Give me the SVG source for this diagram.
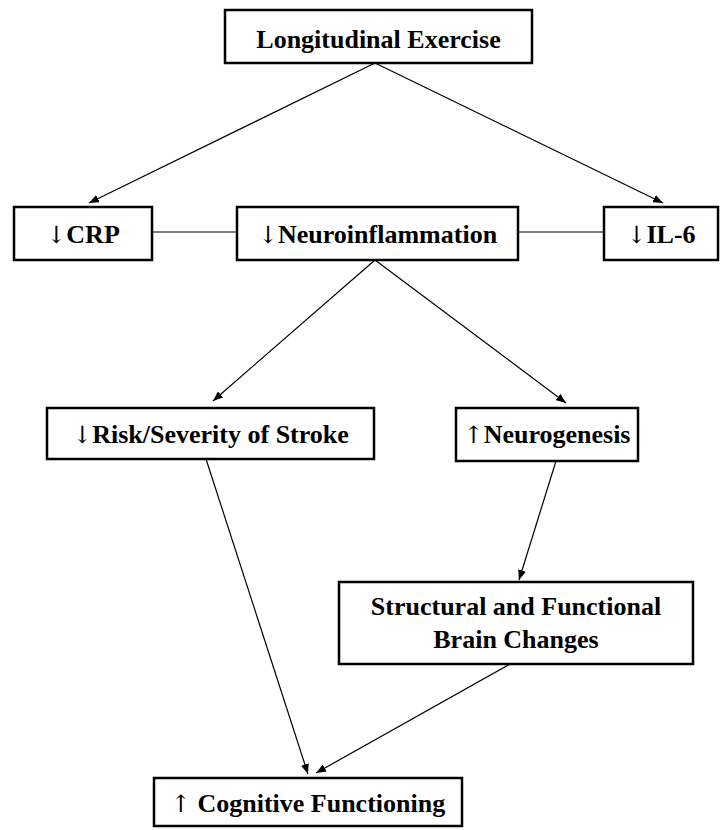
<svg xmlns="http://www.w3.org/2000/svg" width="726" height="830" viewBox="0 0 726 830">
<style>
.box{fill:#fff;stroke:#000;stroke-width:2.5}
.t{font-family:"Liberation Serif","Times New Roman",serif;font-weight:bold;font-size:26px;text-anchor:middle;fill:#000}
.a{font-family:"DejaVu Serif","Liberation Serif",serif;font-weight:normal;font-size:24px;fill:#000}
.c{stroke:#000;stroke-width:1.2;fill:none}
</style>
<defs>
<marker id="ah" viewBox="0 0 10 8" refX="10" refY="4" markerWidth="10" markerHeight="8" markerUnits="userSpaceOnUse" orient="auto">
<path d="M0,0 L10,4 L0,8 Z" fill="#000"/>
</marker>
</defs>
<g id="connectors">
<line class="c" x1="375" y1="63" x2="89" y2="203" marker-end="url(#ah)"/>
<line class="c" x1="375" y1="63" x2="663" y2="203" marker-end="url(#ah)"/>
<line class="c" x1="152" y1="232" x2="237" y2="232"/>
<line class="c" x1="518" y1="232" x2="604" y2="232"/>
<line class="c" x1="375" y1="260" x2="213" y2="401" marker-end="url(#ah)"/>
<line class="c" x1="375" y1="260" x2="566" y2="403" marker-end="url(#ah)"/>
<line class="c" x1="556" y1="461" x2="519" y2="580" marker-end="url(#ah)"/>
<line class="c" x1="206" y1="459" x2="308" y2="774" marker-end="url(#ah)"/>
<line class="c" x1="510" y1="664" x2="316" y2="773" marker-end="url(#ah)"/>
</g>
<g id="exercise">
<rect class="box" x="225" y="10" width="307" height="53"/>
<text class="t" x="378.5" y="48">Longitudinal Exercise</text>
</g>
<g id="crp">
<rect class="box" x="14" y="207" width="138" height="53"/>
<text class="t" x="83" y="243"><tspan class="a">↓</tspan>CRP</text>
</g>
<g id="neuroinflammation">
<rect class="box" x="237" y="207" width="281" height="53"/>
<text class="t" x="377.5" y="243"><tspan class="a">↓</tspan>Neuroinflammation</text>
</g>
<g id="il6">
<rect class="box" x="604" y="207" width="114" height="53"/>
<text class="t" x="661" y="243"><tspan class="a">↓</tspan>IL-6</text>
</g>
<g id="stroke">
<rect class="box" x="47" y="408" width="327" height="51"/>
<text class="t" x="210.5" y="443"><tspan class="a">↓</tspan>Risk/Severity of Stroke</text>
</g>
<g id="neurogenesis">
<rect class="box" x="456" y="408" width="182" height="53"/>
<text class="t" x="547" y="443"><tspan class="a">↑</tspan>Neurogenesis</text>
</g>
<g id="brain">
<rect class="box" x="339" y="582" width="354" height="82"/>
<text class="t" x="516" y="615">Structural and Functional</text>
<text class="t" x="516" y="648">Brain Changes</text>
</g>
<g id="cognitive">
<rect class="box" x="154" y="778" width="308" height="48"/>
<text class="t" x="308" y="812"><tspan class="a">↑</tspan> Cognitive Functioning</text>
</g>
</svg>
